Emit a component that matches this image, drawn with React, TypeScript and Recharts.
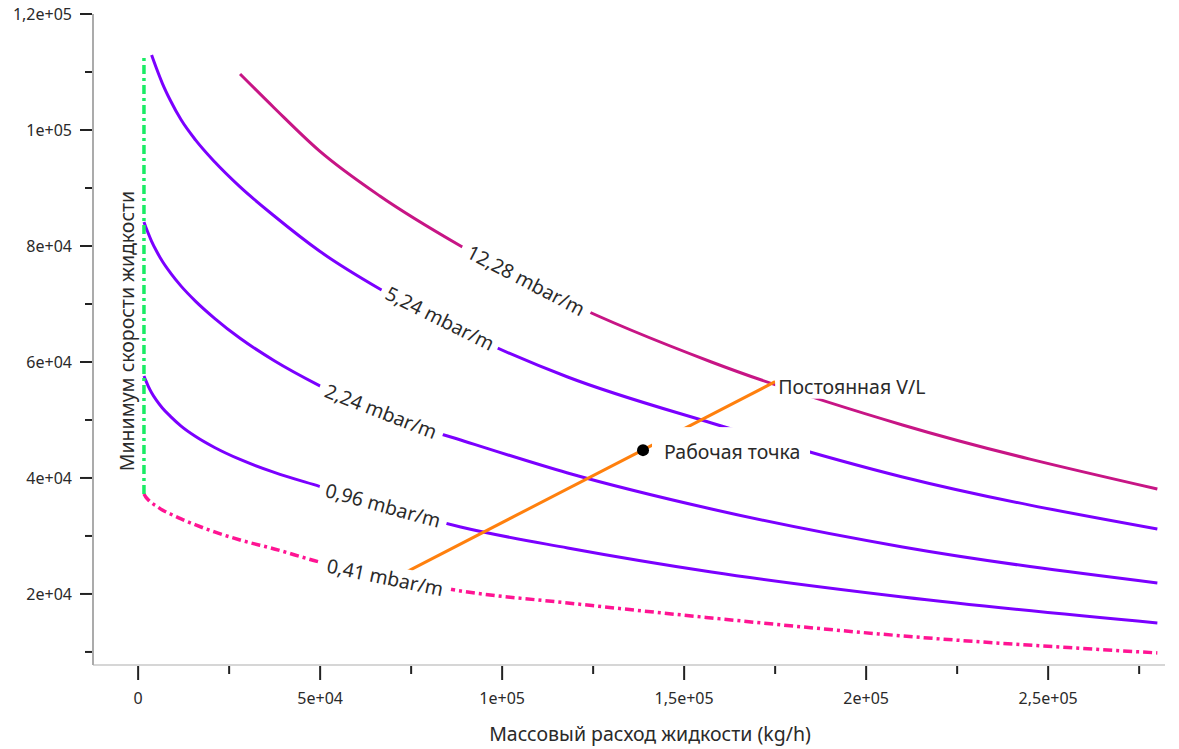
import React from "react";
import { LineChart, Line, XAxis, YAxis, ReferenceDot } from "recharts";

// liquid mass flow (kg/h) sample points shared by the pressure-drop curves
const FLOW = [
  1600, 2100, 2800, 3700, 5000, 6650, 8870, 11800, 15800, 21000, 28000, 37400,
  49800, 66400, 88600, 118000, 157500, 210000, 280000,
];

// vapour flow for each constant pressure-drop curve (null = curve not drawn there)
const DP_041 = [
  37240, 36720, 36210, 35690, 35170, 34480, 33790, 32930, 31900, 30690, 29310,
  27760, 25520, 23280, 20520, 18450, 15860, 12760, 9830,
];
const DP_096 = [
  57580, 56810, 55790, 54690, 53410, 52070, 50620, 48950, 47150, 45260, 43190,
  40960, 38550, 35340, 31550, 27930, 23790, 19480, 15000,
];
const DP_224 = [
  84130, 83290, 82150, 80810, 79170, 77360, 75360, 73080, 70460, 67530, 64080,
  60220, 55930, 51030, 46550, 40860, 34650, 28100, 21900,
];
const DP_524 = [
  null, null, null, 112920, 110680, 108050, 105080, 101750, 98250, 94510, 90180,
  85170, 79130, 72580, 65340, 57410, 49480, 40170, 31200,
];
const DP_1228 = [
  null, null, null, null, null, null, null, null, null, null, 109650, 103800,
  96400, 88620, 80000, 70340, 60000, 49140, 38100,
];

// minimum liquid rate (vertical)
const MIN_FLOW = [1600, 1600];
const MIN_VAPOR = [37240, 112600];

// constant V/L line
const VL_FLOW = [70000, 175000];
const VL_VAPOR = [22600, 56600];

// operating point
const OP_FLOW = 138700;
const OP_VAPOR = 44800;

const X_MAJOR = [0, 50000, 100000, 150000, 200000, 250000];
const X_LABELS = ["0", "5e+04", "1e+05", "1,5e+05", "2e+05", "2,5e+05"];
const X_MINOR = [25000, 75000, 125000, 175000, 225000, 275000];
const Y_MAJOR = [20000, 40000, 60000, 80000, 100000, 120000];
const Y_LABELS = ["2e+04", "4e+04", "6e+04", "8e+04", "1e+05", "1,2e+05"];
const Y_MINOR = [10000, 30000, 50000, 70000, 90000, 110000];

const toSeries = (xs: number[], ys: (number | null)[]) =>
  xs
    .map((x, i) => ({ x, y: ys[i] }))
    .filter((p) => p.y !== null);

const PURPLE = "#7b00ff";
const FONT = "'Noto Sans', 'Open Sans', sans-serif";
const TEXT = "#2a2a2a";
const BIG = 19.5;

const XTick = (props: any) => {
  const { x, y, payload } = props;
  const i = X_MAJOR.indexOf(payload.value);
  const major = i >= 0;
  return (
    <g>
      <line x1={x} x2={x} y1={y + 1} y2={y + (major ? 15 : 9)} stroke="#222" strokeWidth={2} />
      {major && (
        <text x={x} y={y + 33} textAnchor="middle" dominantBaseline="central" fontSize={16} fill={TEXT}>
          {X_LABELS[i]}
        </text>
      )}
    </g>
  );
};

const YTick = (props: any) => {
  const { x, y, payload } = props;
  const i = Y_MAJOR.indexOf(payload.value);
  const major = i >= 0;
  return (
    <g>
      <line x1={x - (major ? 13 : 8)} x2={x - 1} y1={y} y2={y} stroke="#222" strokeWidth={2} />
      {major && (
        <text x={x - 21} y={y} textAnchor="end" dominantBaseline="central" fontSize={16} fill={TEXT}>
          {Y_LABELS[i]}
        </text>
      )}
    </g>
  );
};

const CurveLabel = ({ cx, cy, text, angle, w }: any) => (
  <g transform={`translate(${cx},${cy}) rotate(${angle})`}>
    <rect x={-w / 2} y={-12} width={w} height={24} fill="#fff" />
    <text textAnchor="middle" dominantBaseline="central" fontSize={BIG} fill={TEXT}>
      {text}
    </text>
  </g>
);

const curveLabels = [
  { x: 106600, y: 74130, text: "12,28 mbar/m", angle: 27.5, w: 144 },
  { x: 82970, y: 67580, text: "5,24 mbar/m", angle: 26.6, w: 130 },
  { x: 66760, y: 51550, text: "2,24 mbar/m", angle: 21.3, w: 132 },
  { x: 67300, y: 35340, text: "0,96 mbar/m", angle: 15.4, w: 132 },
  { x: 67860, y: 22930, text: "0,41 mbar/m", angle: 11.7, w: 134 },
];

export default function App() {
  return (
    <div style={{ position: "absolute", left: 0, top: 0, background: "#fff" }}>
      <LineChart
        width={1179}
        height={749}
        margin={{ top: 14, right: 14, bottom: 14, left: 13 }}
        style={{ fontFamily: FONT }}
      >
        <XAxis
          dataKey="x"
          type="number"
          domain={[-12400, 282100]}
          allowDataOverflow
          ticks={[...X_MAJOR, ...X_MINOR].sort((a, b) => a - b)}
          interval={0}
          tick={<XTick />}
          tickLine={false}
          tickSize={0}
          tickMargin={0}
          height={70}
          axisLine={{ stroke: "#d6d6d6", strokeWidth: 2 }}
          label={{
            content: (p: any) => {
              const vb = p.viewBox;
              return (
                <text
                  x={vb.x + vb.width / 2 + 21}
                  y={vb.y + 68}
                  textAnchor="middle"
                  dominantBaseline="central"
                  fontSize={BIG}
                  fill={TEXT}
                >
                  Массовый расход жидкости (kg/h)
                </text>
              );
            },
          }}
        />
        <YAxis
          dataKey="y"
          type="number"
          domain={[7750, 120000]}
          allowDataOverflow
          ticks={[...Y_MAJOR, ...Y_MINOR].sort((a, b) => a - b)}
          interval={0}
          tick={<YTick />}
          tickLine={false}
          tickSize={0}
          tickMargin={0}
          width={80}
          axisLine={{ stroke: "#ababab", strokeWidth: 2 }}
        />
        <Line
          data={toSeries(FLOW, DP_041)}
          dataKey="y"
          type="monotone"
          stroke="#ff1493"
          strokeWidth={3.5}
          strokeDasharray="9 4 3 4"
          dot={false}
          isAnimationActive={false}
        />
        <Line data={toSeries(FLOW, DP_096)} dataKey="y" type="monotone" stroke={PURPLE} strokeWidth={3} dot={false} isAnimationActive={false} />
        <Line data={toSeries(FLOW, DP_224)} dataKey="y" type="monotone" stroke={PURPLE} strokeWidth={3} dot={false} isAnimationActive={false} />
        <Line data={toSeries(FLOW, DP_524)} dataKey="y" type="monotone" stroke={PURPLE} strokeWidth={3} dot={false} isAnimationActive={false} />
        <Line data={toSeries(FLOW, DP_1228)} dataKey="y" type="monotone" stroke="#c71585" strokeWidth={3} dot={false} isAnimationActive={false} />
        <Line
          data={toSeries(MIN_FLOW, MIN_VAPOR)}
          dataKey="y"
          type="linear"
          stroke="#1aec64"
          strokeWidth={3.5}
          strokeDasharray="9 4 3 4"
          dot={false}
          isAnimationActive={false}
        />
        <Line data={toSeries(VL_FLOW, VL_VAPOR)} dataKey="y" type="linear" stroke="#ff800e" strokeWidth={3} dot={false} isAnimationActive={false} />

        {curveLabels.map((l) => (
          <ReferenceDot
            key={l.text}
            x={l.x}
            y={l.y}
            r={0}
            shape={(p: any) => <CurveLabel cx={p.cx} cy={p.cy} text={l.text} angle={l.angle} w={l.w} />}
          />
        ))}
        <ReferenceDot
          x={VL_FLOW[1]}
          y={VL_VAPOR[1]}
          r={0}
          shape={(p: any) => (
            <g>
              <rect x={p.cx} y={p.cy - 9} width={155} height={26} fill="#fff" />
              <text x={p.cx + 3} y={p.cy + 5} dominantBaseline="central" fontSize={BIG} fill={TEXT}>
                Постоянная V/L
              </text>
            </g>
          )}
        />
        <ReferenceDot
          x={OP_FLOW}
          y={OP_VAPOR}
          r={0}
          shape={(p: any) => (
            <g>
              <rect x={p.cx + 9} y={p.cy - 23} width={158} height={48} fill="#fff" />
              <circle cx={p.cx} cy={p.cy} r={6} fill="#000" />
              <text x={p.cx + 21} y={p.cy + 1} dominantBaseline="central" fontSize={BIG} fill={TEXT}>
                Рабочая точка
              </text>
            </g>
          )}
        />
        <ReferenceDot
          x={-3300}
          y={65340}
          r={0}
          shape={(p: any) => (
            <text
              transform={`translate(${p.cx},${p.cy}) rotate(-90)`}
              textAnchor="middle"
              dominantBaseline="central"
              fontSize={BIG}
              fill={TEXT}
            >
              Минимум скорости жидкости
            </text>
          )}
        />
      </LineChart>
    </div>
  );
}
